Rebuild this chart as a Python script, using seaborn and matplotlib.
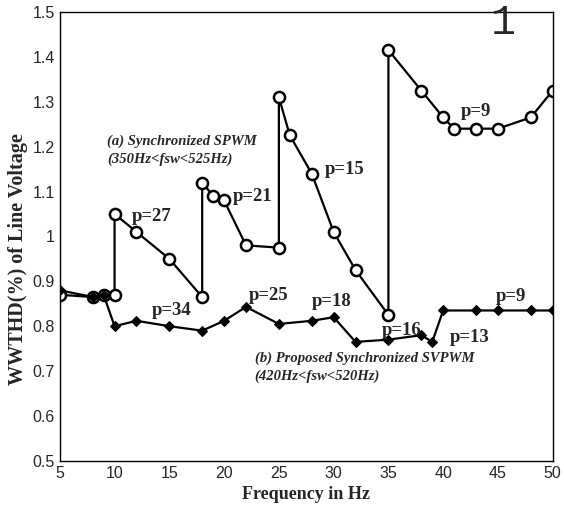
import pandas as pd
import matplotlib
matplotlib.use("Agg")
import matplotlib.pyplot as plt
import seaborn as sns

# SPWM (circles) - vertical jumps where the pulse number p changes
spwm_freq = [5, 8, 9, 10, 10, 12, 15, 18, 18, 19, 20, 22, 25, 25, 26, 28, 30, 32,
             35, 35, 38, 40, 41, 43, 45, 48, 50]
spwm_wthd = [0.87, 0.865, 0.87, 0.87, 1.05, 1.01, 0.95, 0.865, 1.12, 1.09, 1.08,
             0.98, 0.975, 1.31, 1.225, 1.14, 1.01, 0.925, 0.825, 1.415, 1.325,
             1.265, 1.24, 1.24, 1.24, 1.265, 1.325]

# proposed SVPWM (diamonds)
svpwm_freq = [5, 8, 9, 10, 12, 15, 18, 20, 22, 25, 28, 30, 32, 35, 38, 39, 40,
              43, 45, 48, 50]
svpwm_wthd = [0.88, 0.865, 0.87, 0.80, 0.812, 0.80, 0.79, 0.812, 0.843, 0.805,
              0.812, 0.82, 0.765, 0.77, 0.78, 0.765, 0.835, 0.835, 0.835, 0.835,
              0.835]

x_ticks = [5, 10, 15, 20, 25, 30, 35, 40, 45, 50]
y_ticks = [0.5, 0.6, 0.7, 0.8, 0.9, 1.0, 1.1, 1.2, 1.3, 1.4, 1.5]
y_tick_labels = ['0.5', '0.6', '0.7', '0.8', '0.9', '1', '1.1', '1.2', '1.3', '1.4', '1.5']

# pulse-number labels: (text, x, y)
p_labels = [('p=27', 11.6, 1.025), ('p=21', 20.8, 1.07), ('p=15', 29.2, 1.13),
            ('p=9', 41.6, 1.26), ('p=34', 13.4, 0.815), ('p=25', 22.3, 0.85),
            ('p=18', 28.0, 0.835), ('p=16', 34.4, 0.772), ('p=13', 40.6, 0.755),
            ('p=9', 44.8, 0.848)]

df_a = pd.DataFrame({'freq': spwm_freq, 'wthd': spwm_wthd})
df_b = pd.DataFrame({'freq': svpwm_freq, 'wthd': svpwm_wthd})

sns.set_style('white')
plt.rcParams['font.family'] = ['Liberation Sans', 'DejaVu Sans']

fig = plt.figure(figsize=(5.64, 5.19), dpi=100)
ax = fig.add_axes([0.106, 0.112, 0.874, 0.865])

sns.lineplot(data=df_a, x='freq', y='wthd', sort=False, estimator=None,
             color='black', linewidth=1.6, marker='o', markersize=8,
             markerfacecolor='white', markeredgecolor='black',
             markeredgewidth=1.8, ax=ax)
sns.lineplot(data=df_b, x='freq', y='wthd', sort=False, estimator=None,
             color='black', linewidth=1.6, marker='D', markersize=5.5,
             markerfacecolor='black', markeredgecolor='black', ax=ax)

serif = ['Liberation Serif', 'DejaVu Serif']
for txt, x, y in p_labels:
    ax.text(x, y, txt, fontsize=13.5, family=serif, weight='bold',
            ha='left', va='bottom')

ax.text(9.3, 1.205, '(a) Synchronized SPWM', fontsize=10.5, family=serif,
        style='italic', weight='bold')
ax.text(9.3, 1.165, '(350Hz<fsw<525Hz)', fontsize=10.5, family=serif,
        style='italic', weight='bold')
ax.text(22.8, 0.72, '(b) Proposed Synchronized SVPWM', fontsize=10.5,
        family=serif, style='italic', weight='bold')
ax.text(22.8, 0.68, '(420Hz<fsw<520Hz)', fontsize=10.5, family=serif,
        style='italic', weight='bold')

ax.set_xlim(5, 50)
ax.set_ylim(0.5, 1.5)
ax.set_xticks(x_ticks)
ax.set_yticks(y_ticks)
ax.set_yticklabels(y_tick_labels)
ax.tick_params(direction='in', length=4, labelsize=11.5, color='black')
for s in ax.spines.values():
    s.set_color('black')
    s.set_linewidth(1.0)

ax.set_xlabel('Frequency in Hz', fontsize=13, family=serif, weight='bold')
ax.set_ylabel('WWTHD(%) of Line Voltage', fontsize=14.5, family=serif,
              weight='bold')
ax.yaxis.set_label_coords(-0.065, 0.45)

fig.text(0.87, 0.935, '1', fontsize=30, family=['Liberation Mono', 'DejaVu Sans'])

fig.savefig('out.png', dpi=100)
